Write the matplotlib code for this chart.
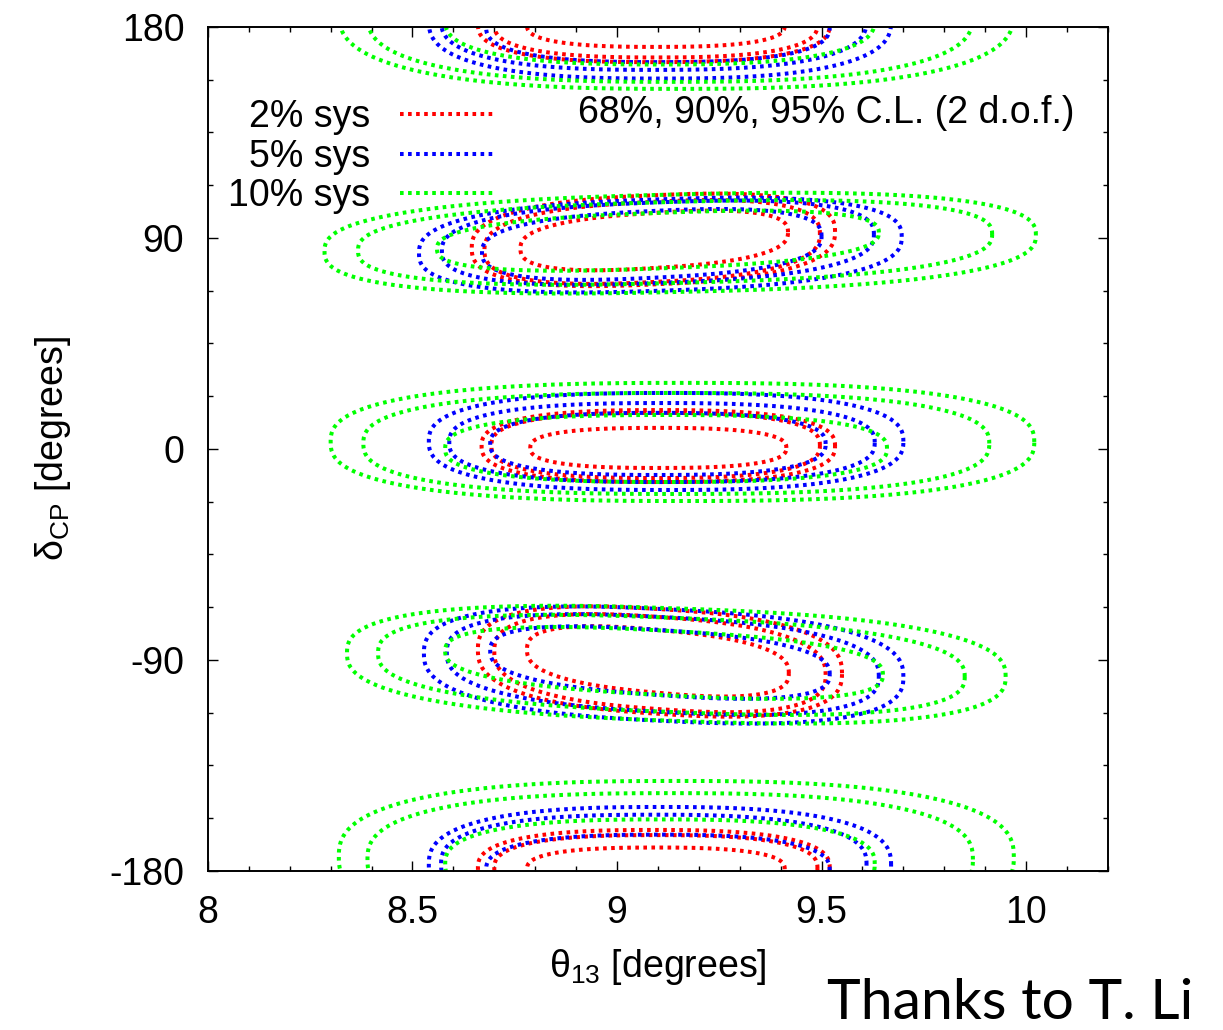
import numpy as np
import matplotlib
matplotlib.use('Agg')
import matplotlib.pyplot as plt
from matplotlib.ticker import MultipleLocator

plt.rcParams['font.family'] = ['Liberation Sans', 'DejaVu Sans']
plt.rcParams['mathtext.fontset'] = 'custom'
plt.rcParams['mathtext.rm'] = 'Liberation Sans'
plt.rcParams['mathtext.it'] = 'Liberation Sans'
plt.rcParams['mathtext.default'] = 'regular'
plt.rcParams['axes.unicode_minus'] = False

sys_labels = ['2% sys', '5% sys', '10% sys']
sys_colors = ['#ff0000', '#0000ff', '#00ff00']

# contour extents, rows = 2%, 5%, 10% sys; columns = 68%, 90%, 95% C.L.
# true delta_CP = 90
th_lo_p90 = [[8.764, 8.676, 8.645], [8.67, 8.572, 8.516], [8.56, 8.367, 8.285]]
th_hi_p90 = [[9.418, 9.496, 9.533], [9.50, 9.628, 9.696], [9.64, 9.917, 10.024]]
dcp_lo_p90 = [[77.2, 71.2, 70.2], [73.0, 70.8, 67.5], [77.0, 70.8, 67.0]]
dcp_hi_p90 = [[100.7, 105.4, 108.2], [101.5, 105.2, 106.5], [100.7, 105.4, 108.6]]
tilt_p90 = 7.0

# true delta_CP = 0
th_lo_zero = [[8.788, 8.693, 8.669], [8.69, 8.59, 8.54], [8.58, 8.38, 8.30]]
th_hi_zero = [[9.414, 9.496, 9.533], [9.51, 9.63, 9.70], [9.66, 9.91, 10.02]]
dcp_lo_zero = [[-8.1, -12.4, -14.1], [-11.1, -14.1, -17.5], [-14.1, -19.2, -22.2]]
dcp_hi_zero = [[9.0, 15.4, 16.6], [15.4, 19.6, 23.9], [14.5, 23.9, 28.2]]
tilt_zero = 0.0

# true delta_CP = -90
th_lo_m90 = [[8.78, 8.70, 8.66], [8.69, 8.584, 8.528], [8.58, 8.416, 8.34]]
th_hi_m90 = [[9.42, 9.51, 9.55], [9.52, 9.64, 9.70], [9.65, 9.85, 9.95]]
dcp_lo_m90 = [[-104.0, -111.0, -113.0], [-105.0, -112.2, -116.0], [-105.0, -112.2, -116.0]]
dcp_hi_m90 = [[-77.2, -71.7, -68.3], [-77.2, -71.7, -68.3], [-77.5, -72.0, -68.0]]
tilt_m90 = -10.0

# true delta_CP = 180 (wraps around to -180)
th_lo_pi = [[8.78, 8.70, 8.66], [8.68, 8.57, 8.54], [8.58, 8.39, 8.32]]
th_hi_pi = [[9.41, 9.49, 9.52], [9.52, 9.61, 9.67], [9.63, 9.87, 9.97]]
dcp_lo_pi = [[171.5, 167.0, 165.0], [165.0, 161.7, 158.0], [164.0, 156.6, 153.6]]
dcp_hi_pi = [[190.0, 195.3, 197.5], [195.5, 204.0, 207.3], [202.0, 213.2, 218.4]]
tilt_pi = 0.0


def contour_curve(lo, hi, dlo, dhi, tilt, n=2.6, npts=600):
    """Closed rounded outline spanning [lo, hi] x [dlo, dhi], sheared by tilt."""
    t = np.linspace(0, 2 * np.pi, npts)
    xc, a = 0.5 * (lo + hi), 0.5 * (hi - lo)
    yc, b = 0.5 * (dlo + dhi), 0.5 * (dhi - dlo)
    c, s = np.cos(t), np.sin(t)
    x = xc + a * np.sign(c) * np.abs(c) ** (2.0 / n)
    y = yc + b * np.sign(s) * np.abs(s) ** (2.0 / n)
    y = y + tilt * (x - xc) / (2 * a)
    return x, y


groups = [
    (th_lo_p90, th_hi_p90, dcp_lo_p90, dcp_hi_p90, tilt_p90, [0]),
    (th_lo_zero, th_hi_zero, dcp_lo_zero, dcp_hi_zero, tilt_zero, [0]),
    (th_lo_m90, th_hi_m90, dcp_lo_m90, dcp_hi_m90, tilt_m90, [0]),
    (th_lo_pi, th_hi_pi, dcp_lo_pi, dcp_hi_pi, tilt_pi, [0, -360]),
]

fig = plt.figure(figsize=(12.23, 10.30), dpi=100)
ax = fig.add_axes([0.170, 0.1544, 0.7359, 0.8194])

dot_style = dict(linestyle=(0, (0.9, 1.1)), linewidth=2.9, dash_capstyle='butt')

for i, (label, color) in enumerate(zip(sys_labels, sys_colors)):
    first = True
    for lo, hi, dlo, dhi, tilt, shifts in groups:
        for j in range(3):
            x, y = contour_curve(lo[i][j], hi[i][j], dlo[i][j], dhi[i][j], tilt)
            for sh in shifts:
                ax.plot(x, y + sh, color=color, label=label if first else None,
                        **dot_style)
                first = False

fs = 27
ax.set_xlim(8, 10.2)
ax.set_ylim(-180, 180)
ax.set_xticks([8, 8.5, 9, 9.5, 10])
ax.set_xticklabels(['8', '8.5', '9', '9.5', '10'])
ax.set_yticks([-180, -90, 0, 90, 180])
ax.xaxis.set_minor_locator(MultipleLocator(0.1))
ax.yaxis.set_minor_locator(MultipleLocator(22.5))
ax.tick_params(which='both', direction='in', top=True, right=True,
               labelsize=fs, width=1.0, pad=17)
ax.tick_params(which='major', length=7)
ax.tick_params(which='minor', length=3.6)
for sp in ax.spines.values():
    sp.set_linewidth(1.4)

ax.set_xlabel(r'$\theta_{13}$ [degrees]', fontsize=fs, labelpad=12)
ax.set_ylabel(r'$\delta_{CP}$ [degrees]', fontsize=fs, labelpad=26)

leg = ax.legend(loc='upper left', bbox_to_anchor=(0.0056, 0.9325), frameon=False,
                fontsize=fs, markerfirst=False, handlelength=2.53,
                handletextpad=0.8, labelspacing=0.1, borderaxespad=0)
ax.text(0.9633, 0.898, '68%, 90%, 95% C.L. (2 d.o.f.)', transform=ax.transAxes,
        ha='right', va='center', fontsize=fs)

fig.text(0.976, 0.001, 'Thanks to T. Li', ha='right', va='bottom',
         fontsize=41, family=['Lato', 'DejaVu Sans'])

fig.savefig('out.png', dpi=100)
